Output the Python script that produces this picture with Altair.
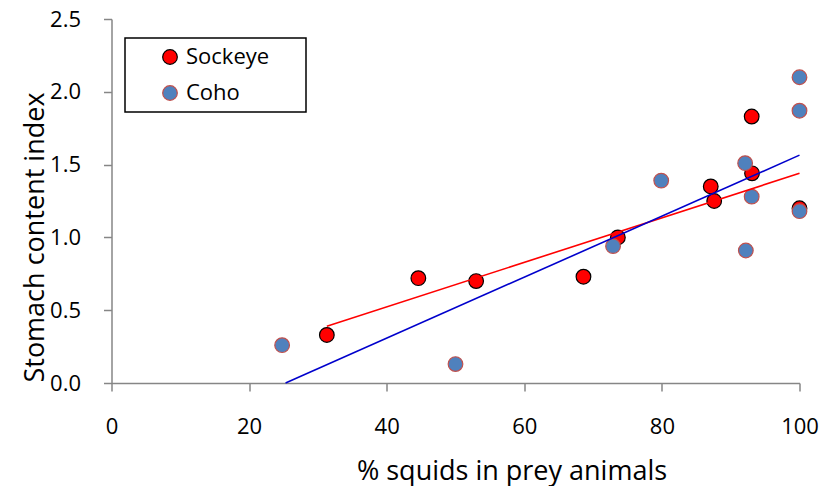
import altair as alt
import pandas as pd

# Stomach content index vs. share of squids among prey, per fish
sockeye_pct = [31.3, 44.6, 53.0, 68.6, 73.6, 87.1, 87.6, 93.05, 93.1, 100.0]
sockeye_index = [0.33, 0.72, 0.70, 0.73, 1.00, 1.35, 1.25, 1.83, 1.44, 1.20]
coho_pct = [24.8, 50.0, 72.9, 79.9, 92.1, 93.05, 92.2, 100.0, 100.0, 100.0]
coho_index = [0.26, 0.13, 0.94, 1.39, 1.51, 1.28, 0.91, 2.10, 1.87, 1.18]

species = ["Sockeye", "Coho"]
fill_colors = ["#FF0000", "#4F81BD"]
edge_colors = ["#000000", "#C0504D"]

# Linear trend lines (end points of each fitted line)
sockeye_fit_pct = [31.3, 100.0]
sockeye_fit_index = [0.39, 1.44]
coho_fit_pct = [25.3, 100.0]
coho_fit_index = [0.0, 1.565]

x_ticks = [0, 20, 40, 60, 80, 100]
y_ticks = [0.0, 0.5, 1.0, 1.5, 2.0, 2.5]

FONT = "Open Sans"

points_df = pd.DataFrame({
    "pct": sockeye_pct + coho_pct,
    "idx": sockeye_index + coho_index,
    "species": ["Sockeye"] * len(sockeye_pct) + ["Coho"] * len(coho_pct),
})
sockeye_fit_df = pd.DataFrame({"pct": sockeye_fit_pct, "idx": sockeye_fit_index})
coho_fit_df = pd.DataFrame({"pct": coho_fit_pct, "idx": coho_fit_index})

x_enc = alt.X(
    "pct:Q",
    scale=alt.Scale(domain=[0, 100], nice=False),
    axis=alt.Axis(
        values=x_ticks,
        title="% squids in prey animals",
        labelPadding=25,
        labelFlush=False,
        titleX=400,
        titleY=96,
        titleAlign="center",
        titleBaseline="alphabetic",
    ),
)
y_enc = alt.Y(
    "idx:Q",
    scale=alt.Scale(domain=[0, 2.5], nice=False),
    axis=alt.Axis(
        values=y_ticks,
        format=".1f",
        title="Stomach content index",
        labelPadding=23,
        labelFlush=False,
        titleX=-68,
        titleY=218,
        titleAlign="center",
        titleBaseline="alphabetic",
    ),
)

# Legend box is wider than its labels: pad the labels with no-break spaces,
# closed by a zero-width space so the padding survives text trimming.
legend = alt.Legend(
    title=None,
    orient="none",
    legendX=13.5,
    legendY=19,
    padding=8,
    strokeColor="#000000",
    fillColor="#FFFFFF",
    symbolType="circle",
    symbolSize=215,
    symbolStrokeWidth=1.2,
    symbolOffset=26,
    labelOffset=5,
    rowPadding=14,
    labelFont=FONT,
    labelFontSize=22,
    labelColor="#000000",
    labelExpr="datum.label + '\u00a0\u00a0\u00a0\u00a0\u00a0\u200b'",
)

points = alt.Chart(points_df).mark_circle(size=215, opacity=1, strokeWidth=1.2).encode(
    x=x_enc,
    y=y_enc,
    fill=alt.Fill("species:N", scale=alt.Scale(domain=species, range=fill_colors), legend=legend),
    stroke=alt.Stroke("species:N", scale=alt.Scale(domain=species, range=edge_colors), legend=legend),
)

sockeye_fit = alt.Chart(sockeye_fit_df).mark_line(color="#FF0000", strokeWidth=1.6).encode(
    x="pct:Q", y="idx:Q"
)
coho_fit = alt.Chart(coho_fit_df).mark_line(color="#0000CC", strokeWidth=1.6).encode(
    x="pct:Q", y="idx:Q"
)

chart = (
    alt.layer(points, sockeye_fit, coho_fit)
    .properties(
        width=688,
        height=364,
        autosize=alt.AutoSizeParams(type="none"),
        padding={"left": 111.5, "top": 19, "right": 32, "bottom": 103},
        background="#FFFFFF",
    )
    .configure_view(stroke=None)
    .configure_axis(
        grid=False,
        domainColor="#868686",
        domainWidth=1.5,
        tickColor="#868686",
        tickWidth=1.5,
        tickSize=8,
        labelFont=FONT,
        labelFontSize=22,
        labelColor="#000000",
        titleFont=FONT,
        titleFontSize=27,
        titleFontWeight="normal",
        titleColor="#000000",
    )
    .configure_legend(strokeWidth=1.5)
)

chart.save("out.html", embed_options={"renderer": "svg", "actions": False})
